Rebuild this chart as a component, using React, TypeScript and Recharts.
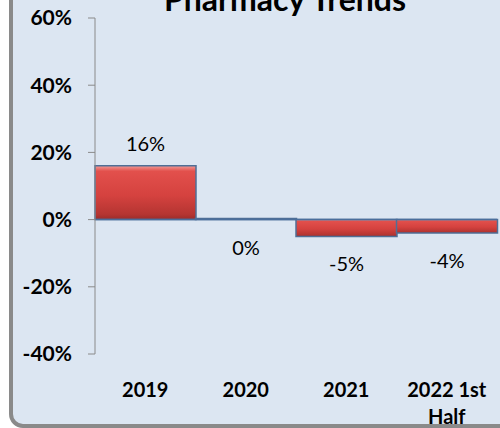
import { BarChart, Bar, XAxis, YAxis, ReferenceLine, LabelList } from 'recharts';

const categories = ['2019', '2020', '2021', '2022 1st Half'];
const growth = [16, 0, -5, -4];
const yTicks = [-40, -20, 0, 20, 40, 60];

const data = categories.map((name, i) => ({ name, growth: growth[i] }));

const FONT = 'Lato, "Open Sans", sans-serif';

// splits long category names onto two lines like the original
function CategoryTick(props: any) {
  const { x, y, payload } = props;
  const label: string = String(payload.value);
  let lines = [label];
  if (label.length > 8) {
    const idx = label.lastIndexOf(' ');
    lines = [label.slice(0, idx), label.slice(idx + 1)];
  }
  return (
    <text x={x} y={y} textAnchor="middle" fontFamily={FONT} fontWeight={700} fontSize={20} fill="#000">
      {lines.map((ln, i) => (
        <tspan key={i} x={x} dy={i === 0 ? 43 : 27}>
          {ln}
        </tspan>
      ))}
    </text>
  );
}

function ValueLabel(props: any) {
  const { x, y, width, height, value } = props;
  const v = Number(value);
  const top = Math.min(y, y + height);
  const bottom = Math.max(y, y + height);
  const ty = v > 0 ? top - 23 : bottom + 27;
  return (
    <text
      x={x + width / 2}
      y={ty}
      textAnchor="middle"
      dominantBaseline="central"
      fontFamily={FONT}
      fontSize={20}
      fill="#000"
    >
      {v}%
    </text>
  );
}

export default function App() {
  return (
    <div
      style={{
        position: 'absolute',
        left: 0,
        top: 0,
        width: 500,
        height: 428,
        overflow: 'hidden',
        background: '#fff',
      }}
    >
      <div
        style={{
          position: 'absolute',
          left: 9,
          top: -30,
          width: 540,
          height: 458,
          boxSizing: 'border-box',
          border: '4px solid #8a8a8a',
          borderRadius: 14,
          background: '#dce6f2',
        }}
      />
      <div style={{ position: 'absolute', left: 0, top: 0 }}>
        <BarChart
          width={500}
          height={428}
          data={data}
          margin={{ top: 18, right: 3, bottom: 0, left: 1 }}
          barCategoryGap={0}
        >
          <defs>
            <linearGradient id="redBar" x1="0" y1="0" x2="0" y2="1">
              <stop offset="0" stopColor="#f29b97" />
              <stop offset="0.1" stopColor="#e2504c" />
              <stop offset="0.55" stopColor="#d5423f" />
              <stop offset="0.9" stopColor="#b53532" />
              <stop offset="1" stopColor="#9a2b29" />
            </linearGradient>
          </defs>
          <YAxis
            width={94}
            domain={[-40, 60]}
            ticks={yTicks}
            tickFormatter={(v) => `${v}%`}
            stroke="#8a8a8a"
            tickSize={7}
            tickMargin={16}
            tick={{ fill: '#000', fontFamily: FONT, fontWeight: 700, fontSize: 21 }}
            allowDataOverflow
          />
          <XAxis
            dataKey="name"
            height={74}
            axisLine={false}
            tickLine={false}
            tickSize={0}
            tickMargin={0}
            interval={0}
            tick={<CategoryTick />}
          />
          <ReferenceLine y={0} stroke="#4a6e9c" strokeWidth={1.5} />
          <Bar
            dataKey="growth"
            fill="url(#redBar)"
            stroke="#4f6f96"
            strokeWidth={1.5}
            minPointSize={1}
            isAnimationActive={false}
          >
            <LabelList dataKey="growth" content={<ValueLabel />} />
          </Bar>
        </BarChart>
      </div>
      <svg style={{ position: 'absolute', left: 0, top: 0 }} width={500} height={40}>
        <text
          x={285}
          y={11}
          textAnchor="middle"
          fontFamily={FONT}
          fontWeight={700}
          fontSize={32}
          fill="#000"
        >
          Pharmacy Trends
        </text>
      </svg>
    </div>
  );
}
